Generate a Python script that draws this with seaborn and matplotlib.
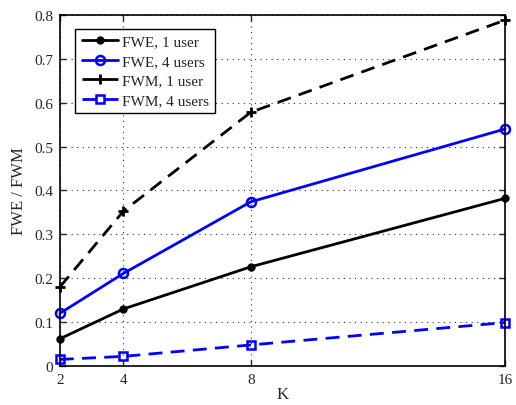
import matplotlib
matplotlib.use("Agg")
import matplotlib.pyplot as plt
import seaborn as sns

K = [2, 4, 8, 16]
fwe_1user = [0.062, 0.130, 0.226, 0.382]
fwe_4users = [0.120, 0.211, 0.374, 0.540]
fwm_1user = [0.180, 0.353, 0.578, 0.788]
fwm_4users = [0.015, 0.022, 0.048, 0.099]
labels = ["FWE, 1 user", "FWE, 4 users", "FWM, 1 user", "FWM, 4 users"]

sns.set_style("ticks")
plt.rcParams['font.family'] = ['Liberation Serif', 'DejaVu Serif']
plt.rcParams['mathtext.fontset'] = 'stix'

fig = plt.figure(figsize=(5.16, 4.06), dpi=100)
ax = fig.add_axes([0.116, 0.096, 0.863, 0.865])

styles = [
    dict(color="black", linestyle="-", marker="o", markersize=5,
         markerfacecolor="black", markeredgecolor="black", markeredgewidth=1),
    dict(color="#0000ff", linestyle="-", marker="o", markersize=6.5,
         markerfacecolor="none", markeredgecolor="#0000ff", markeredgewidth=1.8),
    dict(color="black", linestyle=(0, (5, 3)), marker="+", markersize=7,
         markerfacecolor="black", markeredgecolor="black", markeredgewidth=2),
    dict(color="#0000ff", linestyle=(0, (5, 3)), marker="s", markersize=5.5,
         markerfacecolor="none", markeredgecolor="#0000ff", markeredgewidth=1.8),
]
for ys, lab, st in zip([fwe_1user, fwe_4users, fwm_1user, fwm_4users], labels, styles):
    sns.lineplot(x=K, y=ys, ax=ax, label=lab, linewidth=2, clip_on=False, **st)

ax.set_xlim(2, 16)
ax.set_ylim(0, 0.8)
ax.set_xticks(K)
ax.set_xticklabels([str(k) for k in K])
ax.set_yticks([0, 0.1, 0.2, 0.3, 0.4, 0.5, 0.6, 0.7, 0.8])
ax.set_yticklabels(["0", "0.1", "0.2", "0.3", "0.4", "0.5", "0.6", "0.7", "0.8"])
ax.grid(True, linestyle=(0, (1, 4)), color="black", linewidth=0.8, alpha=0.8)
ax.tick_params(direction="in", top=True, right=True, labelsize=11, length=4, width=1, pad=5)
for s in ax.spines.values():
    s.set_linewidth(1.2)
    s.set_color("black")
ax.set_xlabel("K", fontsize=12, labelpad=0)
ax.set_ylabel("FWE / FWM", fontsize=12, labelpad=5)

leg = ax.legend(loc="upper left", bbox_to_anchor=(0.035, 0.96), fontsize=11, frameon=True,
                fancybox=False, edgecolor="black", framealpha=1, handlelength=2.4,
                handletextpad=0.25, borderpad=0.4, labelspacing=0.38, borderaxespad=0)
leg.get_frame().set_linewidth(1.0)

fig.savefig("out.png", dpi=100)
